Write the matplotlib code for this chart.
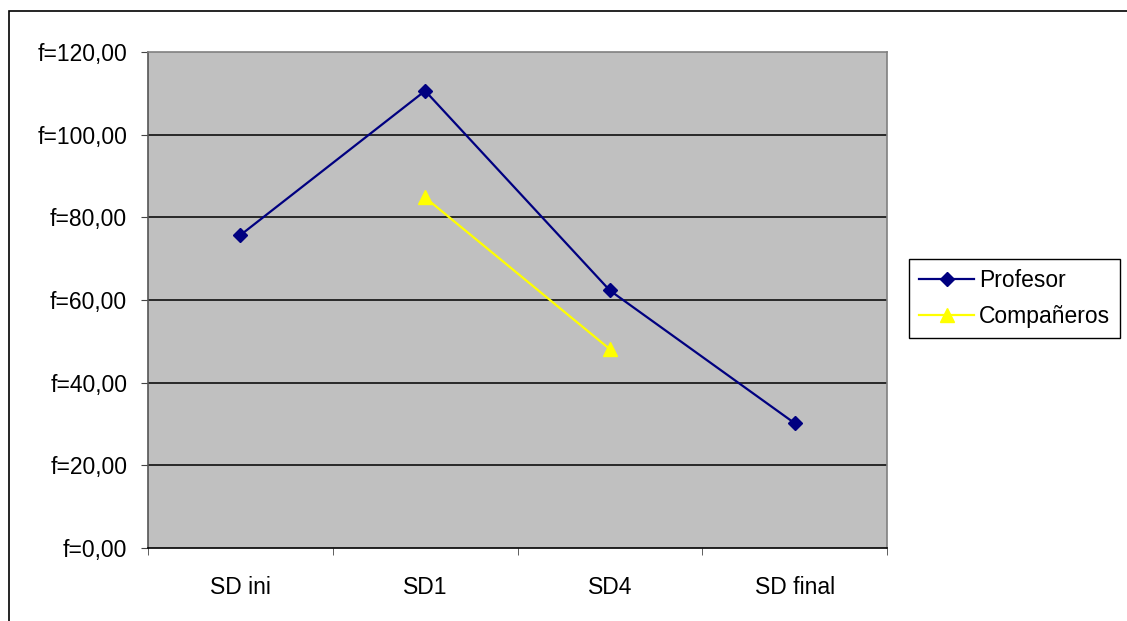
import matplotlib.pyplot as plt
import matplotlib.patches as mpatches
import numpy as np

plt.rcParams['font.family'] = ['Liberation Sans', 'DejaVu Sans']

categories = ['SD ini', 'SD1', 'SD4', 'SD final']
profesor = [75.7, 110.6, 62.3, 30.2]
companeros = [np.nan, 84.8, 48.1, np.nan]
yticks = [0, 20, 40, 60, 80, 100, 120]

fig = plt.figure(figsize=(11.27, 6.21), dpi=100)
W, H = 1127, 621
fs = 16.5

# outer chart frame (cut off at right and bottom)
fig.patches.append(mpatches.Rectangle((9 / W, -0.1), 1.2, 1 - 11 / H + 0.1,
                                      transform=fig.transFigure, fill=False,
                                      edgecolor='black', linewidth=1.2))

ax = fig.add_axes([148 / W, (H - 548) / H, 739 / W, 496 / H])
ax.set_facecolor('#C0C0C0')

x = np.arange(len(categories))
ax.plot(x, profesor, color='#000080', linewidth=1.6, marker='D', markersize=7,
        label='Profesor')
ax.plot(x, companeros, color='#FFFF00', linewidth=1.6, marker='^', markersize=10,
        label='Compañeros')

ax.set_xlim(-0.5, len(categories) - 0.5)
ax.set_ylim(0, 120)
ax.set_yticks(yticks)
ax.set_yticklabels(['f=%d,00' % v for v in yticks], fontsize=fs)
for v in yticks[1:-1]:
    ax.axhline(v, color='black', linewidth=1.1, zorder=1)

ax.set_xticks(x)
ax.set_xticklabels(categories, fontsize=fs)
ax.set_xticks(np.arange(-0.5, len(categories)), minor=True)
ax.tick_params(axis='x', which='major', length=0, pad=20)
ax.tick_params(axis='x', which='minor', length=5, color='#444444')
ax.tick_params(axis='y', length=5, color='#444444', pad=10)

ax.spines['top'].set_color('#808080')
ax.spines['right'].set_color('#808080')
ax.spines['left'].set_color('#555555')
ax.spines['bottom'].set_color('black')
for s in ax.spines.values():
    s.set_linewidth(1.2)

leg = fig.legend(loc='upper left', bbox_to_anchor=(909 / W, 1 - 259 / H),
                 bbox_transform=fig.transFigure, fontsize=fs, frameon=True,
                 fancybox=False, edgecolor='black', framealpha=1,
                 handlelength=2.4, handletextpad=0.2, borderpad=0.45,
                 labelspacing=0.55, borderaxespad=0)
leg.get_frame().set_linewidth(1.0)

fig.savefig('out.png', dpi=100)
